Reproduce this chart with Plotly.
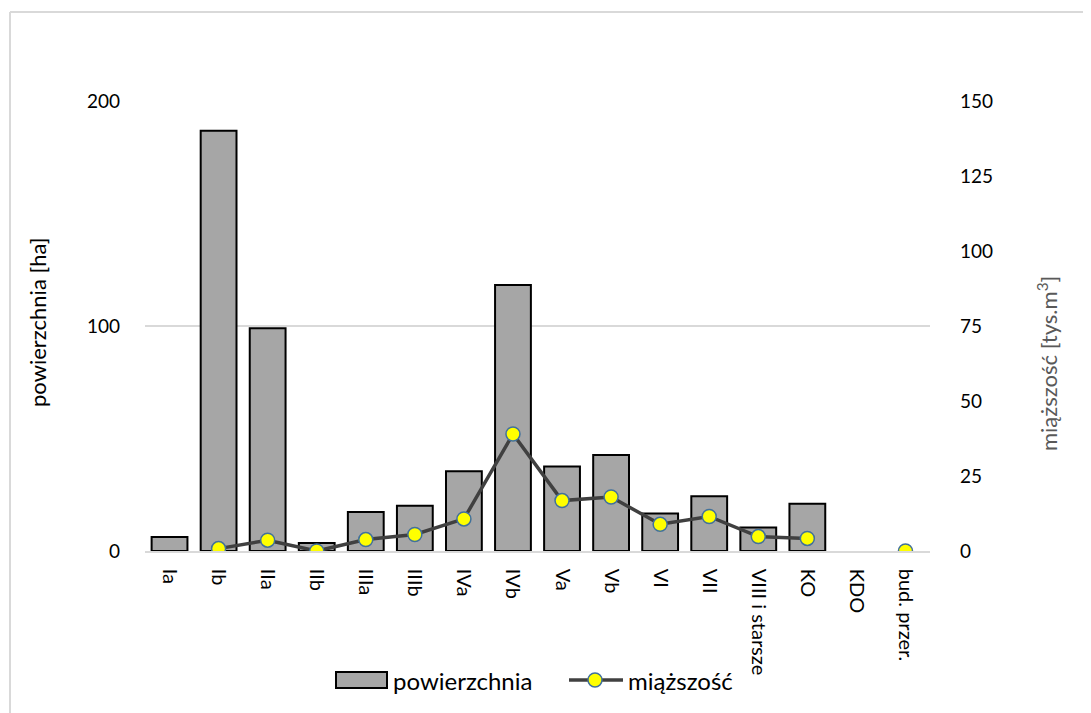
import plotly.graph_objects as go

categories = ["Ia", "Ib", "IIa", "IIb", "IIIa", "IIIb", "IVa", "IVb", "Va", "Vb",
              "VI", "VII", "VIII i starsze", "KO", "KDO", "bud. przer."]
powierzchnia = [6.2, 186.8, 99.0, 3.6, 17.3, 20.1, 35.4, 118.2, 37.6, 42.7,
                16.7, 24.3, 10.4, 21.0, None, None]
miazszosc = [None, 0.8, 3.6, 0.0, 3.8, 5.5, 10.7, 39.0, 16.8, 18.0,
             8.9, 11.5, 4.8, 4.2, None, 0.0]

# page body has an 8px default margin -> shift all pixel targets
O = 8
W, H = 1091 - O, 713 - O
L, R, T, B = 145 - O, 930 - O, 101 - O, 551 - O
FONT = "Lato, 'Open Sans', sans-serif"

def px(x):
    return (x - O - L) / (R - L)

def py(y):
    return (B - (y - O)) / (B - T)

fig = go.Figure()
fig.add_trace(go.Bar(
    x=categories, y=powierzchnia, name="powierzchnia",
    marker=dict(color="#A6A6A6", line=dict(color="#000000", width=2)),
    yaxis="y",
))
fig.add_trace(go.Scatter(
    x=categories, y=miazszosc, name="miąższość", mode="lines+markers",
    line=dict(color="#404040", width=3.5),
    marker=dict(color="#FFFF00", size=14, line=dict(color="#41719C", width=1.5)),
    connectgaps=False, yaxis="y2",
))

LEG_Y = 680
fig.update_layout(
    width=W, height=H,
    margin=dict(l=L, r=W - R, t=T, b=H - B),
    paper_bgcolor="white", plot_bgcolor="white",
    font=dict(family=FONT, size=18, color="#000000"),
    bargap=0.27,
    showlegend=False,
    xaxis=dict(
        type="category", range=[-0.5, len(categories) - 0.5], tickangle=90, showgrid=False,
        showline=True, linecolor="#D9D9D9", linewidth=1.5,
        ticks="", tickfont=dict(size=20), ticklabelstandoff=12,
    ),
    yaxis=dict(
        range=[0, 200], tickvals=[0, 100, 200], showgrid=True,
        gridcolor="#D9D9D9", gridwidth=1.5, zeroline=False, showline=False,
        ticks="", tickfont=dict(size=19), ticklabelstandoff=24,
    ),
    yaxis2=dict(
        range=[0, 150], tickvals=[0, 25, 50, 75, 100, 125, 150], overlaying="y",
        side="right", showgrid=False, zeroline=False, showline=False,
        ticks="", tickfont=dict(size=19), ticklabelstandoff=29,
    ),
    annotations=[
        dict(text="powierzchnia [ha]", x=px(37), y=py(322), xref="paper", yref="paper",
             textangle=-90, showarrow=False, xanchor="center", yanchor="middle",
             font=dict(size=22, color="#000000")),
        dict(text="miąższość [tys.m<sup>3</sup>]", x=px(1047), y=py(364), xref="paper", yref="paper",
             textangle=-90, showarrow=False, xanchor="center", yanchor="middle",
             font=dict(size=22, color="#595959")),
        dict(text="powierzchnia", x=px(391), y=py(LEG_Y), xref="paper", yref="paper",
             showarrow=False, xanchor="left", yanchor="middle",
             font=dict(size=24, color="#000000")),
        dict(text="miąższość", x=px(626), y=py(LEG_Y), xref="paper", yref="paper",
             showarrow=False, xanchor="left", yanchor="middle",
             font=dict(size=24, color="#000000")),
    ],
    shapes=[
        dict(type="line", xref="paper", yref="paper", x0=px(10), x1=px(10), y0=py(12), y1=py(720),
             line=dict(color="#D9D9D9", width=2)),
        dict(type="line", xref="paper", yref="paper", x0=px(10), x1=px(1100), y0=py(12), y1=py(12),
             line=dict(color="#D9D9D9", width=2)),
        # legend swatches
        dict(type="rect", xref="paper", yref="paper", x0=px(336), x1=px(387),
             y0=py(LEG_Y - 8), y1=py(LEG_Y + 8),
             fillcolor="#A6A6A6", line=dict(color="#000000", width=2)),
        dict(type="line", xref="paper", yref="paper", x0=px(569), x1=px(623),
             y0=py(LEG_Y), y1=py(LEG_Y), line=dict(color="#404040", width=3.5)),
        dict(type="circle", xref="paper", yref="paper", x0=px(588), x1=px(602),
             y0=py(LEG_Y - 7), y1=py(LEG_Y + 7),
             fillcolor="#FFFF00", line=dict(color="#41719C", width=1.5)),
    ],
)

fig.write_html("out.html")
